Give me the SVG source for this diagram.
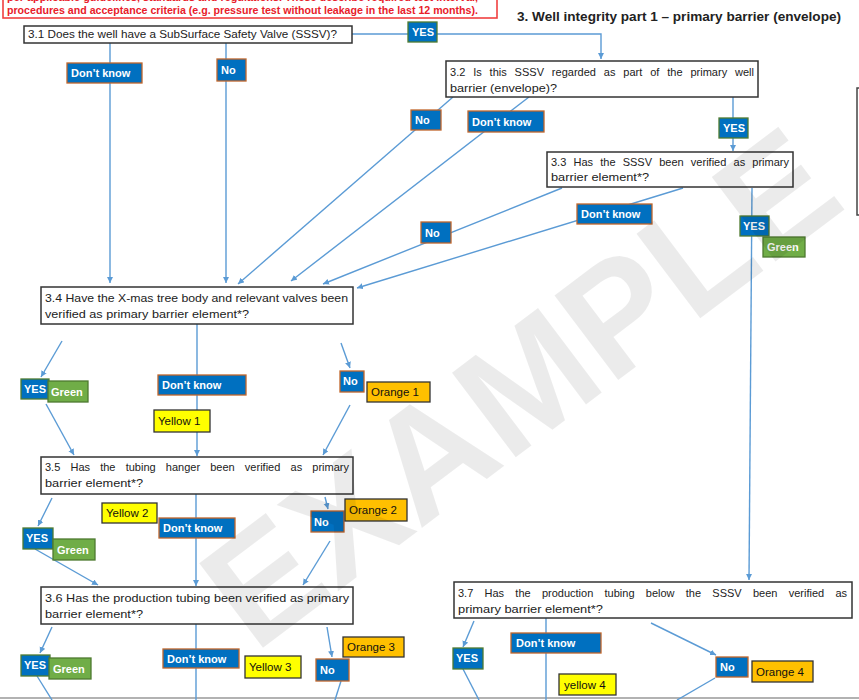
<svg xmlns="http://www.w3.org/2000/svg" width="859" height="700" viewBox="0 0 859 700">
<style>
.q{fill:#fff;stroke:#333;stroke-width:1.5}
.qt{font-family:"Liberation Sans",Arial,sans-serif;font-size:11px;fill:#222}
.b{fill:#0070C0}
.dk{stroke:#C0652A;stroke-width:1.3}
.ys{stroke:#4E7A30;stroke-width:1.3}
.gr{fill:#70AD47;stroke:#4E7A30;stroke-width:1.3}
.yl{fill:#FFFF00;stroke:#333;stroke-width:1.3}
.or{fill:#FFC000;stroke:#333;stroke-width:1.3}
.lt{font-family:"Liberation Sans",Arial,sans-serif;font-size:11px;font-weight:bold;fill:#fff}
.dt{font-family:"Liberation Sans",Arial,sans-serif;font-size:11.5px;fill:#111}
.c path{fill:none;stroke:#5B9BD5;stroke-width:1.4}
.red{font-family:"Liberation Sans",Arial,sans-serif;font-size:10.5px;font-weight:bold;fill:#E8202A}
</style>
<defs>
<marker id="ah" markerUnits="userSpaceOnUse" markerWidth="7" markerHeight="7" refX="6" refY="3" orient="auto">
<path d="M0,0 L6,3 L0,6 z" fill="#5B9BD5"/>
</marker>
</defs>
<rect width="859" height="700" fill="#fff"/>

<g id="note">
<rect x="3" y="-6" width="494" height="24" fill="#fff" stroke="#F04040" stroke-width="1.6"/>
<text class="red" x="7" y="1" textLength="471" lengthAdjust="spacingAndGlyphs">per applicable guidelines, standards and regulations. These describe required test interval,</text>
<text class="red" x="7" y="14" textLength="471" lengthAdjust="spacingAndGlyphs">procedures and acceptance criteria (e.g. pressure test without leakage in the last 12 months).</text>
</g>
<g id="title">
<text x="517" y="21" font-family="Liberation Sans,Arial,sans-serif" font-size="13" font-weight="bold" fill="#222" textLength="324" lengthAdjust="spacingAndGlyphs">3. Well integrity part 1 – primary barrier (envelope)</text>
</g>
<path d="M859,88 H857 V215 H859" fill="none" stroke="#444" stroke-width="1.5"/>
<line x1="0" y1="698" x2="859" y2="698" stroke="#999" stroke-width="1.5"/>

<g class="c" id="connectors">
<path d="M352,34 H601 V59" marker-end="url(#ah)"/>
<path d="M110,43 V283" marker-end="url(#ah)"/>
<path d="M226,43 V283" marker-end="url(#ah)"/>
<path d="M453,97 L238,284" marker-end="url(#ah)"/>
<path d="M529,97 L291,281" marker-end="url(#ah)"/>
<path d="M733,97 V151" marker-end="url(#ah)"/>
<path d="M562,188 L323,284" marker-end="url(#ah)"/>
<path d="M683,188 L357,288" marker-end="url(#ah)"/>
<path d="M752,188 L749,580" marker-end="url(#ah)"/>
<path d="M62,341 L41,377" marker-end="url(#ah)"/>
<path d="M46,404 L74,455" marker-end="url(#ah)"/>
<path d="M197,324 V456" marker-end="url(#ah)"/>
<path d="M341,343 L350,368" marker-end="url(#ah)"/>
<path d="M350,405 L323,455" marker-end="url(#ah)"/>
<path d="M52,498 L38,526" marker-end="url(#ah)"/>
<path d="M35,549 L98,585" marker-end="url(#ah)"/>
<path d="M196,494 V586" marker-end="url(#ah)"/>
<path d="M325,497 L328,509" marker-end="url(#ah)"/>
<path d="M330,541 L303,585" marker-end="url(#ah)"/>
<path d="M52,627 L40,653" marker-end="url(#ah)"/>
<path d="M37,676 L52,700"/>
<path d="M196,624 V700"/>
<path d="M327,627 L332,657" marker-end="url(#ah)"/>
<path d="M341,681 L335,700"/>
<path d="M474,621 L463,647" marker-end="url(#ah)"/>
<path d="M463,669 L479,700"/>
<path d="M546,618 V700"/>
<path d="M651,623 L716,655" marker-end="url(#ah)"/>
<path d="M715,678 L677,700"/>
</g>

<g id="q31"><rect class="q" x="24" y="26" width="328" height="17"/>
<text class="qt" x="28" y="38" textLength="309" lengthAdjust="spacingAndGlyphs">3.1 Does the well have a SubSurface Safety Valve (SSSV)?</text></g>
<g id="q32"><rect class="q" x="446" y="61" width="312" height="36"/>
<text class="qt" x="450" y="76" word-spacing="4.8" textLength="304" lengthAdjust="spacing">3.2 Is this SSSV regarded as part of the primary well</text>
<text class="qt" x="450" y="92" textLength="107" lengthAdjust="spacingAndGlyphs">barrier (envelope)?</text></g>
<g id="q33"><rect class="q" x="547" y="152" width="246" height="35"/>
<text class="qt" x="551" y="166" word-spacing="4.1" textLength="238" lengthAdjust="spacing">3.3 Has the SSSV been verified as primary</text>
<text class="qt" x="551" y="181" textLength="98" lengthAdjust="spacingAndGlyphs">barrier element*?</text></g>
<g id="q34"><rect class="q" x="41" y="287" width="312" height="37"/>
<text class="qt" x="45" y="302" textLength="303" lengthAdjust="spacingAndGlyphs">3.4 Have the X-mas tree body and relevant valves been</text>
<text class="qt" x="45" y="318" textLength="204" lengthAdjust="spacingAndGlyphs">verified as primary barrier element*?</text></g>
<g id="q35"><rect class="q" x="41" y="457" width="312" height="37"/>
<text class="qt" x="45" y="471" word-spacing="7.1" textLength="304" lengthAdjust="spacing">3.5 Has the tubing hanger been verified as primary</text>
<text class="qt" x="45" y="487" textLength="98" lengthAdjust="spacingAndGlyphs">barrier element*?</text></g>
<g id="q36"><rect class="q" x="41" y="587" width="312" height="37"/>
<text class="qt" x="45" y="602" textLength="304" lengthAdjust="spacingAndGlyphs">3.6 Has the production tubing been verified as primary</text>
<text class="qt" x="45" y="618" textLength="98" lengthAdjust="spacingAndGlyphs">barrier element*?</text></g>
<g id="q37"><rect class="q" x="454" y="582" width="398" height="36"/>
<text class="qt" x="458" y="597" word-spacing="8.2" textLength="389" lengthAdjust="spacing">3.7 Has the production tubing below the SSSV been verified as</text>
<text class="qt" x="458" y="613" textLength="145" lengthAdjust="spacingAndGlyphs">primary barrier element*?</text></g>

<g id="l1"><rect class="b ys" x="408" y="22" width="29" height="20"/><text class="lt" x="412" y="36">YES</text></g>
<g id="l2"><rect class="b dk" x="67" y="63" width="75" height="20"/><text class="lt" x="71" y="77">Don’t know</text></g>
<g id="l3"><rect class="b dk" x="217" y="59" width="29" height="22"/><text class="lt" x="221" y="74">No</text></g>
<g id="l4"><rect class="b dk" x="411" y="110" width="30" height="20"/><text class="lt" x="415" y="124">No</text></g>
<g id="l5"><rect class="b dk" x="468" y="111" width="76" height="21"/><text class="lt" x="472" y="126">Don’t know</text></g>
<g id="l6"><rect class="b ys" x="719" y="118" width="29" height="20"/><text class="lt" x="723" y="132">YES</text></g>
<g id="l7"><rect class="b dk" x="421" y="222" width="30" height="21"/><text class="lt" x="425" y="237">No</text></g>
<g id="l8"><rect class="b dk" x="577" y="204" width="75" height="20"/><text class="lt" x="581" y="218">Don’t know</text></g>
<g id="l9"><rect class="b ys" x="740" y="216" width="29" height="20"/><text class="lt" x="743" y="230">YES</text></g>
<g id="l9g"><rect class="gr" x="763" y="237" width="42" height="20"/><text class="lt" x="767" y="251" font-weight="normal">Green</text></g>

<g id="l10"><rect class="b ys" x="21" y="379" width="28" height="20"/><text class="lt" x="24" y="393">YES</text></g>
<g id="l10g"><rect class="gr" x="48" y="381" width="40" height="21"/><text class="lt" x="51" y="396" font-weight="normal">Green</text></g>
<g id="l11"><rect class="b dk" x="158" y="375" width="88" height="20"/><text class="lt" x="162" y="389">Don’t know</text></g>
<g id="l11y"><rect class="yl" x="154" y="410" width="56" height="22"/><text class="dt" x="158" y="425">Yellow 1</text></g>
<g id="l12"><rect class="b dk" x="340" y="371" width="24" height="21"/><text class="lt" x="343" y="385">No</text></g>
<g id="l12o"><rect class="or" x="367" y="382" width="63" height="20"/><text class="dt" x="371" y="396">Orange 1</text></g>

<g id="l13"><rect class="b ys" x="23" y="528" width="30" height="21"/><text class="lt" x="26" y="542">YES</text></g>
<g id="l13g"><rect class="gr" x="53" y="539" width="42" height="21"/><text class="lt" x="57" y="554" font-weight="normal">Green</text></g>
<g id="l14y"><rect class="yl" x="102" y="503" width="55" height="20"/><text class="dt" x="106" y="517">Yellow 2</text></g>
<g id="l14"><rect class="b dk" x="159" y="518" width="76" height="20"/><text class="lt" x="163" y="532">Don’t know</text></g>
<g id="l15"><rect class="b dk" x="311" y="511" width="33" height="21"/><text class="lt" x="314" y="526">No</text></g>
<g id="l15o"><rect class="or" x="345" y="499" width="62" height="22"/><text class="dt" x="349" y="514">Orange 2</text></g>

<g id="l16"><rect class="b ys" x="21" y="655" width="29" height="21"/><text class="lt" x="24" y="669">YES</text></g>
<g id="l16g"><rect class="gr" x="49" y="658" width="42" height="21"/><text class="lt" x="53" y="673" font-weight="normal">Green</text></g>
<g id="l17"><rect class="b dk" x="163" y="649" width="76" height="19"/><text class="lt" x="167" y="663">Don’t know</text></g>
<g id="l17y"><rect class="yl" x="245" y="656" width="56" height="22"/><text class="dt" x="249" y="671">Yellow 3</text></g>
<g id="l18"><rect class="b dk" x="316" y="659" width="33" height="22"/><text class="lt" x="320" y="674">No</text></g>
<g id="l18o"><rect class="or" x="343" y="637" width="61" height="20"/><text class="dt" x="347" y="651">Orange 3</text></g>

<g id="l19"><rect class="b ys" x="453" y="648" width="30" height="21"/><text class="lt" x="456" y="662">YES</text></g>
<g id="l20"><rect class="b dk" x="511" y="633" width="90" height="20"/><text class="lt" x="516" y="647">Don’t know</text></g>
<g id="l20y"><rect class="yl" x="559" y="674" width="57" height="21"/><text class="dt" x="564" y="689">yellow 4</text></g>
<g id="l21"><rect class="b dk" x="716" y="657" width="32" height="20"/><text class="lt" x="720" y="671">No</text></g>
<g id="l21o"><rect class="or" x="752" y="661" width="61" height="21"/><text class="dt" x="756" y="676">Orange 4</text></g>

<text x="0" y="0" transform="translate(552,430) rotate(-37)" text-anchor="middle" font-family="Liberation Sans,Arial,sans-serif" font-weight="bold" font-size="154" fill="#000" fill-opacity="0.08">EXAMPLE</text>
</svg>
